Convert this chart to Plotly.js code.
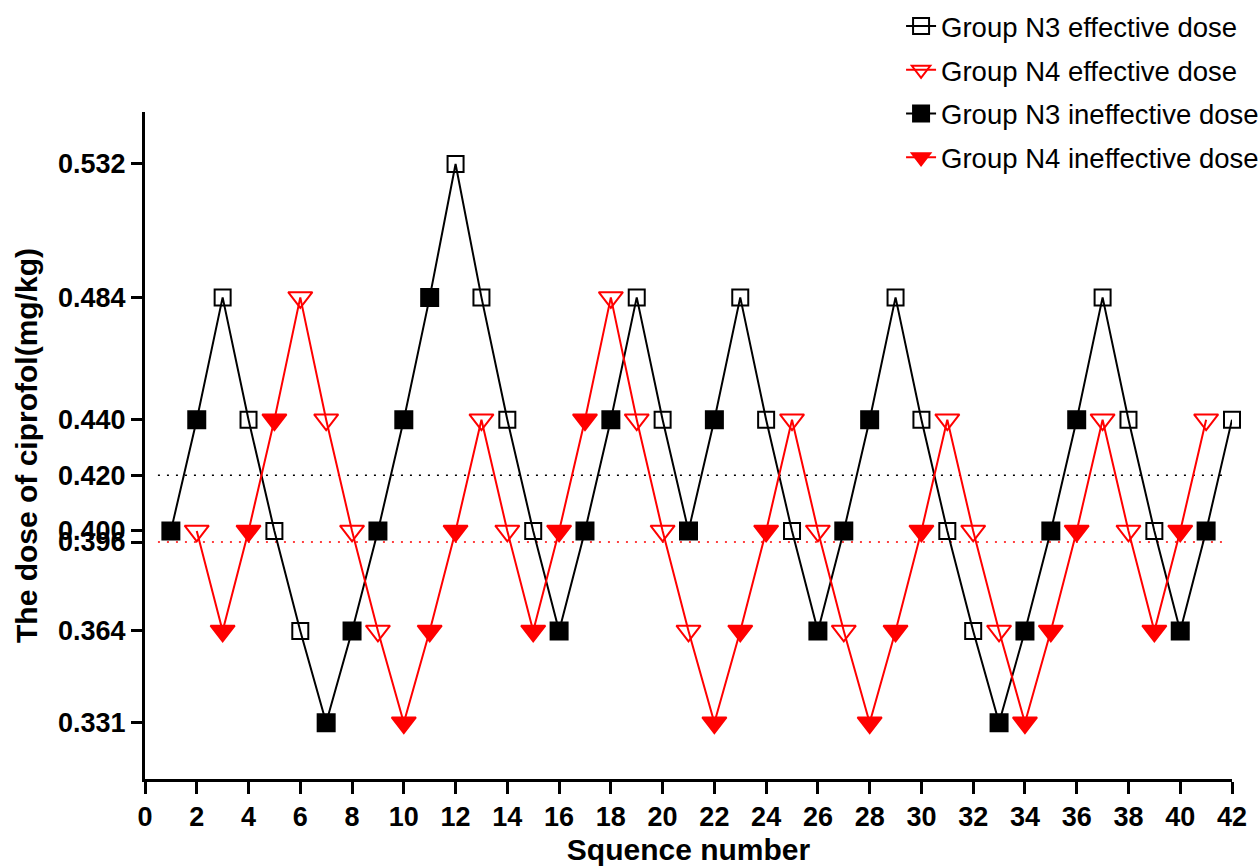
<!DOCTYPE html>
<html>
<head>
<meta charset="utf-8">
<script src="https://cdn.plot.ly/plotly-3.0.1.min.js"></script>
<style>html,body{margin:0;padding:0;background:#fff;}#chart{width:1259px;height:868px;}</style>
</head>
<body>
<div id="chart"></div>
<script>
// ---- data ----
var seqN3 = [1,2,3,4,5,6,7,8,9,10,11,12,13,14,15,16,17,18,19,20,21,22,23,24,25,26,27,28,29,30,31,32,33,34,35,36,37,38,39,40,41,42];
var doseN3 = [0.400,0.440,0.484,0.440,0.400,0.364,0.331,0.364,0.400,0.440,0.484,0.532,0.484,0.440,0.400,0.364,0.400,0.440,0.484,0.440,0.400,0.440,0.484,0.440,0.400,0.364,0.400,0.440,0.484,0.440,0.400,0.364,0.331,0.364,0.400,0.440,0.484,0.440,0.400,0.364,0.400,0.440];
var effN3 = ['I','I','E','E','E','E','I','I','I','I','I','E','E','E','E','I','I','I','E','E','I','I','E','E','E','I','I','I','E','E','E','E','I','I','I','I','E','E','E','I','I','E'];

var seqN4 = [2,3,4,5,6,7,8,9,10,11,12,13,14,15,16,17,18,19,20,21,22,23,24,25,26,27,28,29,30,31,32,33,34,35,36,37,38,39,40,41];
var doseN4 = [0.400,0.364,0.400,0.440,0.484,0.440,0.400,0.364,0.331,0.364,0.400,0.440,0.400,0.364,0.400,0.440,0.484,0.440,0.400,0.364,0.331,0.364,0.400,0.440,0.400,0.364,0.331,0.364,0.400,0.440,0.400,0.364,0.331,0.364,0.400,0.440,0.400,0.364,0.400,0.440];
var effN4 = ['E','I','I','I','E','E','E','E','I','I','I','E','E','I','I','I','E','E','E','E','I','I','I','E','E','E','I','I','I','E','E','E','I','I','I','E','E','I','I','E'];

var refLineVals = [0.420, 0.396];
var refLineColors = ['#000000', '#ff0000'];

var yTickVals = [0.331, 0.364, 0.396, 0.400, 0.420, 0.440, 0.484, 0.532];
var yTickText = ['0.331', '0.364', '0.396', '0.400', '0.420', '0.440', '0.484', '0.532'];

var legendNames = {
  N3E: 'Group N3 effective dose',
  N4E: 'Group N4 effective dose',
  N3I: 'Group N3 ineffective dose',
  N4I: 'Group N4 ineffective dose'
};

// ---- helpers ----
function subset(xs, ys, flags, want) {
  var ox = [], oy = [];
  for (var i = 0; i < xs.length; i++) {
    if (flags[i] === want) {
      ox.push(xs[i]); oy.push(ys[i]);
      ox.push(null); oy.push(null);
    }
  }
  return {x: ox, y: oy};
}

var BLACK = '#000000', RED = '#ff0000';
var traces = [];

traces.push({x: seqN3, y: doseN3, mode: 'lines', line: {color: BLACK, width: 2}, showlegend: false, hoverinfo: 'skip', cliponaxis: false});
traces.push({x: seqN4, y: doseN4, mode: 'lines', line: {color: RED, width: 2}, showlegend: false, hoverinfo: 'skip', cliponaxis: false});

function markerTrace(xs, ys, flags, want, name, color, symbol, size, rank) {
  var s = subset(xs, ys, flags, want);
  return {
    x: s.x, y: s.y, name: name, mode: 'lines+markers', connectgaps: false,
    line: {color: color, width: 2},
    marker: {symbol: symbol, size: size, color: color, line: {color: color, width: 2}},
    legendgroup: name, legendrank: rank, cliponaxis: false
  };
}

traces.push(markerTrace(seqN3, doseN3, effN3, 'E', legendNames.N3E, BLACK, 'square-open', 16, 1));
traces.push(markerTrace(seqN4, doseN4, effN4, 'E', legendNames.N4E, RED, 'triangle-down-open', 21, 2));
traces.push(markerTrace(seqN3, doseN3, effN3, 'I', legendNames.N3I, BLACK, 'square', 17, 3));
traces.push(markerTrace(seqN4, doseN4, effN4, 'I', legendNames.N4I, RED, 'triangle-down', 21, 4));

var shapes = refLineVals.map(function (v, i) {
  return {type: 'line', xref: 'x', yref: 'y', x0: 0.5, x1: 41.8, y0: v, y1: v,
          layer: 'below', line: {color: refLineColors[i], width: 1.5, dash: '2px,7px'}};
});

var FONT = 'Liberation Sans, Arial, Helvetica, sans-serif';

var layout = {
  width: 1259, height: 868,
  margin: {l: 145, r: 27, t: 112, b: 89, pad: 0, autoexpand: false},
  paper_bgcolor: '#ffffff', plot_bgcolor: '#ffffff',
  showlegend: true,
  font: {family: FONT, color: '#000000'},
  xaxis: {
    range: [0, 42], tick0: 0, dtick: 2, showgrid: false, zeroline: false,
    showline: true, linecolor: '#000', linewidth: 3,
    ticks: 'outside', ticklen: 12, tickwidth: 3, tickcolor: '#000',
    tickfont: {family: FONT, size: 27, weight: 700, color: '#000'},
    title: {text: 'Squence number', font: {family: FONT, size: 30, weight: 700, color: '#000'}, standoff: 8}
  },
  yaxis: {
    range: [0.31074, 0.5507], tickmode: 'array', tickvals: yTickVals, ticktext: yTickText,
    showgrid: false, zeroline: false,
    showline: true, linecolor: '#000', linewidth: 3,
    ticks: 'outside', ticklen: 11, tickwidth: 3, tickcolor: '#000',
    tickfont: {family: FONT, size: 27, weight: 700, color: '#000'},
    title: {text: 'The dose of ciprofol(mg/kg)', font: {family: FONT, size: 30, weight: 700, color: '#000'}, standoff: 12}
  },
  legend: {
    xref: 'container', yref: 'container', x: 0.7157, y: 0.998, xanchor: 'left', yanchor: 'top',
    font: {family: FONT, size: 27.5, color: '#000'},
    bgcolor: 'rgba(0,0,0,0)', borderwidth: 0, tracegroupgap: 5, traceorder: 'grouped'
  },
  shapes: shapes
};

Plotly.newPlot('chart', traces, layout, {staticPlot: true, displayModeBar: false});
</script>
</body>
</html>
